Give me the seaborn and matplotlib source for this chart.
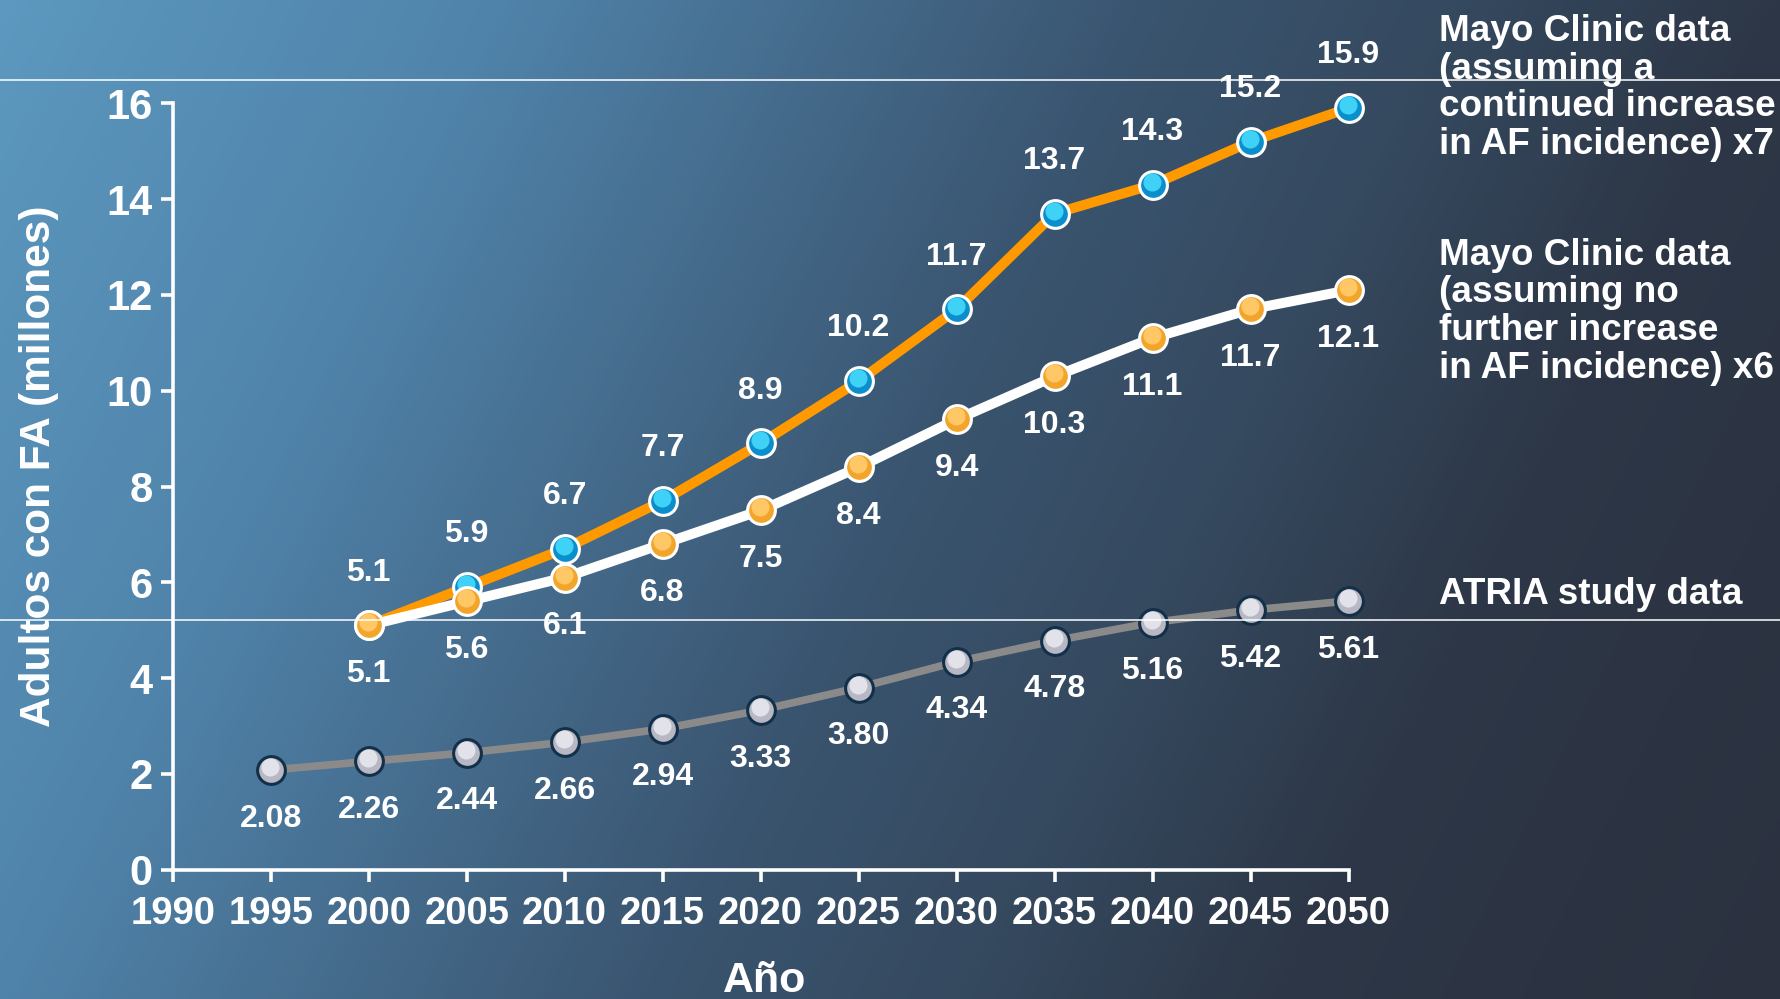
import numpy as np
import pandas as pd
import matplotlib
matplotlib.use("Agg")
import matplotlib.pyplot as plt
from matplotlib.colors import LinearSegmentedColormap
from matplotlib.lines import Line2D
from matplotlib.transforms import offset_copy
import seaborn as sns

# ---- data -------------------------------------------------------------
years_atria = [1995, 2000, 2005, 2010, 2015, 2020, 2025, 2030, 2035, 2040, 2045, 2050]
atria = [2.08, 2.26, 2.44, 2.66, 2.94, 3.33, 3.80, 4.34, 4.78, 5.16, 5.42, 5.61]
atria_labels = ["2.08", "2.26", "2.44", "2.66", "2.94", "3.33", "3.80", "4.34",
                "4.78", "5.16", "5.42", "5.61"]

years_mayo = [2000, 2005, 2010, 2015, 2020, 2025, 2030, 2035, 2040, 2045, 2050]
mayo_increase = [5.1, 5.9, 6.7, 7.7, 8.9, 10.2, 11.7, 13.7, 14.3, 15.2, 15.9]
mayo_flat = [5.1, 5.6, 6.1, 6.8, 7.5, 8.4, 9.4, 10.3, 11.1, 11.7, 12.1]

series_names = [
    "Mayo Clinic data\n(assuming a\ncontinued increase\nin AF incidence) x7",
    "Mayo Clinic data\n(assuming no\nfurther increase\nin AF incidence) x6",
    "ATRIA study data",
]
x_ticks = [1990, 1995, 2000, 2005, 2010, 2015, 2020, 2025, 2030, 2035, 2040, 2045, 2050]
y_ticks = [0, 2, 4, 6, 8, 10, 12, 14, 16]
x_label = "Año"
y_label = "Adultos con FA (millones)"

df_inc = pd.DataFrame({"year": years_mayo, "value": mayo_increase})
df_flat = pd.DataFrame({"year": years_mayo, "value": mayo_flat})
df_atria = pd.DataFrame({"year": years_atria, "value": atria})

# ---- style ------------------------------------------------------------
sns.set_theme(style="white")
plt.rcParams["font.family"] = ["Liberation Sans", "DejaVu Sans"]
plt.rcParams["font.weight"] = "bold"

W, H, DPI = 1780, 999, 100
fig = plt.figure(figsize=(W / DPI, H / DPI), dpi=DPI)

# background gradient
bg = fig.add_axes([0, 0, 1, 1], zorder=-10)
gx, gy = np.meshgrid(np.linspace(0, 1, 400), np.linspace(0, 1, 240))
t = (gx + 0.28 * gy) / 1.28
cmap = LinearSegmentedColormap.from_list(
    "slide",
    [(0.0, "#5c98bf"), (0.22, "#5083aa"), (0.5, "#3a5570"),
     (0.64, "#35495f"), (0.78, "#2d3747"), (1.0, "#2b313f")],
)
bg.imshow(t, cmap=cmap, aspect="auto", extent=[0, 1, 1, 0], vmin=0, vmax=1)
bg.set_axis_off()

ax = fig.add_axes([0.097, 0.1295, 0.6606, 0.767])
ax.set_facecolor("none")

WHITE = "white"


def draw_series(data, line_color, lw, face_dark, face_light, edge, z):
    sns.lineplot(data=data, x="year", y="value", ax=ax, color=line_color,
                 linewidth=lw, marker="o", markersize=20, markerfacecolor=face_dark,
                 markeredgecolor=edge, markeredgewidth=2.2, zorder=z, clip_on=False)
    # soft highlight on the upper part of each marker
    hl = offset_copy(ax.transData, fig=fig, x=-1, y=3, units="dots")
    ax.plot(data["year"], data["value"], linestyle="none", marker="o",
            markersize=13, markerfacecolor=face_light, markeredgewidth=0,
            transform=hl, zorder=z + 0.1, clip_on=False)


draw_series(df_atria, "#8a8a8a", 5.5, "#b8b8c4", "#e2e2ea", "#133049", 3)
draw_series(df_inc, "#ff9900", 7.2, "#0a8fcc", "#3fd2f6", WHITE, 4)
draw_series(df_flat, WHITE, 7.2, "#f2a52a", "#ffc766", WHITE, 5)

label_kw = dict(textcoords="offset points", ha="center", va="center",
                color=WHITE, fontsize=23, fontweight="bold", zorder=8)
for x, y in zip(years_mayo, mayo_increase):
    ax.annotate(f"{y:.1f}", (x, y), xytext=(0, 38), **label_kw)
for x, y in zip(years_mayo, mayo_flat):
    ax.annotate(f"{y:.1f}", (x, y), xytext=(0, -35), **label_kw)
for x, y, s in zip(years_atria, atria, atria_labels):
    ax.annotate(s, (x, y), xytext=(0, -35), **label_kw)

# axes
ax.set_xlim(1990, 2050)
ax.set_ylim(0, 16)
ax.set_xticks(x_ticks)
ax.set_yticks(y_ticks)
ax.set_xticklabels([str(v) for v in x_ticks], fontsize=27.5, fontweight="bold", color=WHITE)
ax.set_yticklabels([str(v) for v in y_ticks], fontsize=30, fontweight="bold", color=WHITE)
ax.tick_params(axis="both", direction="out", length=8.5, width=2.6, color=WHITE,
               bottom=True, left=True)
ax.tick_params(axis="x", pad=10.5)
ax.tick_params(axis="y", pad=6)
for side in ("top", "right"):
    ax.spines[side].set_visible(False)
for side in ("left", "bottom"):
    ax.spines[side].set_color(WHITE)
    ax.spines[side].set_linewidth(2.6)
    ax.spines[side].set_zorder(1)
ax.grid(False)

ax.set_xlabel(x_label, fontsize=31, fontweight="bold", color=WHITE)
ax.set_ylabel(y_label, fontsize=30.5, fontweight="bold", color=WHITE)
ax.xaxis.label.set_va("center")
ax.yaxis.label.set_va("center")
ax.xaxis.set_label_coords(0.503, -0.145)
ax.yaxis.set_label_coords(-0.114, 0.527)

# series names at the right
for name, yf in zip(series_names, [0.912, 0.688, 0.405]):
    fig.text(1439 / W, yf, name, ha="left", va="center", color=WHITE,
             fontsize=26.6, fontweight="bold", linespacing=1.095)

# thin rules across the slide
for yf in (1 - 79.5 / H, 1 - 620 / H):
    fig.add_artist(Line2D([0, 1], [yf, yf], transform=fig.transFigure,
                          color=WHITE, linewidth=1.1, zorder=20))

fig.savefig("out.png", dpi=DPI)
